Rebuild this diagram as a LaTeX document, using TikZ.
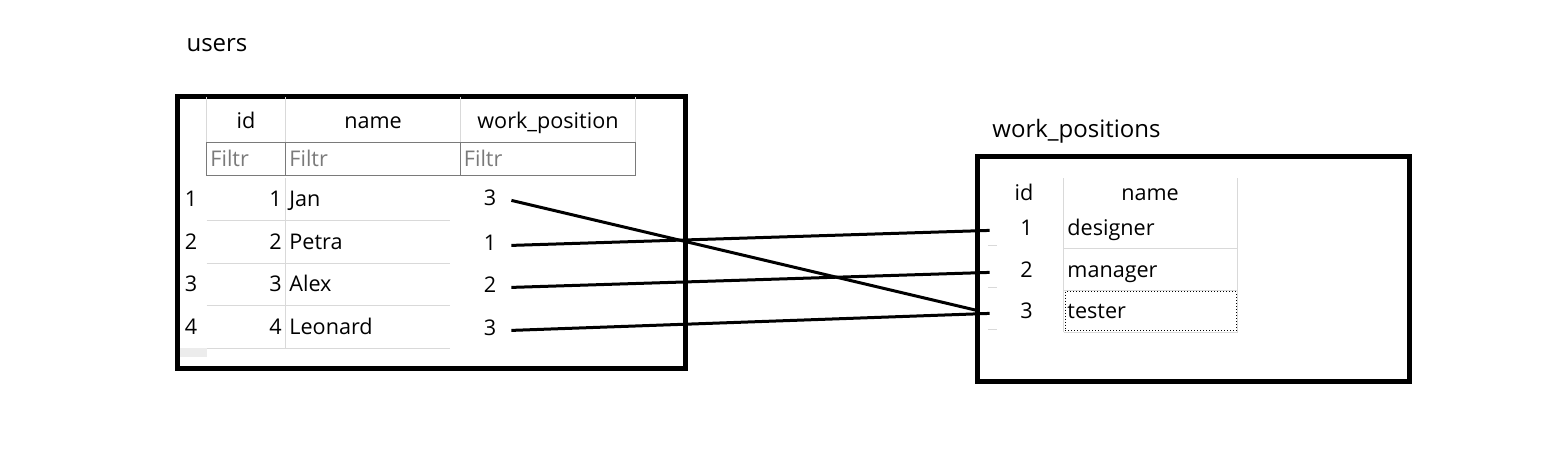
\documentclass[tikz,border=0pt]{standalone}
\usepackage{fontspec}
\setmainfont{Open Sans}
\definecolor{gridgray}{HTML}{D9D9D9}
\definecolor{filtgray}{HTML}{7A7A7A}

\begin{document}
\begin{tikzpicture}[x=0.5pt,y=-0.5pt,
        cell/.style={inner sep=1pt,text height=8pt,text depth=2.5pt,yshift=-1.2pt,font=\fontsize{10.8}{12}\selectfont},
        title/.style={inner sep=0pt,font=\fontsize{12}{14}\selectfont},
        filtr/.style={cell,text=filtgray,anchor=west},
        frame/.style={line width=2.5pt},
        link/.style={line width=1.5pt}]
    \useasboundingbox (0,0) rectangle (1562,455);
        % users table
        \node[title] (usersTitle) at (217,45) {users};
            \draw[frame] (177.5,96.5) rectangle (685.5,368.5);
            \foreach \x in {206.5,285.5,460,635.5}
                \draw[gridgray] (\x,97) -- (\x,142);
            \draw[filtgray] (206.5,142.5) rectangle (285.5,175.5);
            \draw[filtgray] (285.5,142.5) rectangle (460,175.5);
            \draw[filtgray] (460,142.5) rectangle (635.5,175.5);
            \foreach \y in {220,263,305,348}
                \draw[gridgray] (206.5,\y) -- (450,\y);
            \draw[gridgray] (285.5,178) -- (285.5,348);
            \fill[gray!15] (180,348) rectangle (206.5,357);
        \node[cell] (uHeadId) at (246,121) {id};
        \node[cell] (uHeadName) at (373,121) {name};
        \node[cell] (uHeadWp) at (548,121) {work\_position};
        \node[filtr] (uFiltId) at (208,159) {Filtr};
        \node[filtr] (uFiltName) at (287,159) {Filtr};
        \node[filtr] (uFiltWp) at (461.5,159) {Filtr};
        \foreach \n/\name/\y in {1/Jan/199,2/Petra/242,3/Alex/284,4/Leonard/326.5} {
            \node[cell] (uRow\n) at (191,\y) {\n};
            \node[cell,anchor=east] (uId\n) at (284,\y) {\n};
            \node[cell,anchor=west] (uName\n) at (287,\y) {\name};
        }
        \foreach \n/\wp/\y in {1/3/198,2/1/243,3/2/285,4/3/328}
            \node[cell,minimum width=21pt] (uWp\n) at (490,\y) {\wp};
        % work_positions table
        \node[title] (wpTitle) at (1076.5,131) {work\_positions};
            \draw[frame] (977.5,156.5) rectangle (1409,381.5);
            \draw[gridgray] (1063.5,178) -- (1063.5,332);
            \draw[gridgray] (1237.5,178) -- (1237.5,332);
            \foreach \y in {248,290,332} {
                \draw[gridgray] (1063.5,\y) -- (1237.5,\y);
                \draw[gridgray] (988,\y-3) -- (997,\y-3);
            }
            \draw[densely dotted,line width=0.5pt] (1065,291.5) rectangle (1236,330.5);
        \node[cell] (pHeadId) at (1024,193) {id};
        \node[cell] (pHeadName) at (1150,193) {name};
        \foreach \n/\name/\y in {1/designer/228,2/manager/270,3/tester/311} {
            \node[cell,minimum width=36.5pt] (pId\n) at (1026.5,\y) {\n};
            \node[cell,anchor=west] (pName\n) at (1065,\y) {\name};
        }
        % links
        \draw[link,shorten >=7pt] (uWp1.east) -- (pId3.west);
        \draw[link] (uWp2.east) -- (pId1.west);
        \draw[link] (uWp3.east) -- (pId2.west);
        \draw[link] (uWp4.east) -- (pId3.west);
\end{tikzpicture}
\end{document}
